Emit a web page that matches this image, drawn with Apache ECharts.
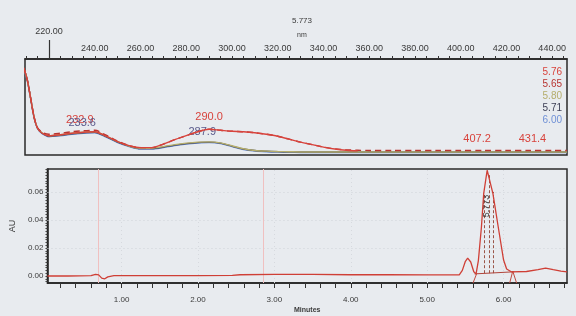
<!DOCTYPE html>
<html>
<head>
<meta charset="utf-8">
<script src="https://cdn.jsdelivr.net/npm/echarts@6/dist/echarts.min.js"></script>
<style>
  html, body { margin: 0; padding: 0; background: #e8ebef; }
  #chart { width: 576px; height: 316px; }
</style>
</head>
<body>
<div id="chart"></div>
<script>
// spectra (top panel), values in arbitrary units
const wavelengths = [209, 210.5, 212, 213.5, 215, 217, 220, 225, 230, 235, 240, 245, 250, 255, 260, 265, 270, 275, 280, 285, 290, 295, 300, 305, 310, 315, 320, 325, 330, 335, 340, 345, 350, 355, 360, 370, 380, 390, 400, 410, 420, 430, 440, 446.5];
const spec576 = [88, 76, 57, 38, 27, 22, 19.5, 20.5, 22, 23, 23.5, 19, 13.5, 9.5, 7.5, 7.5, 11, 15.5, 19.5, 23.5, 26, 25, 24, 23.5, 22.5, 21, 19, 16, 13, 10.5, 8, 6, 4.8, 4.2, null, null, null, null, null, null, null, null, null, null];
const spec565 = [88, 76, 57, 38, 27.5, 23, 21, 22, 23.5, 24.5, 25, 20, 14, 9.5, 7.5, 7.5, 11, 15.5, 19.5, 23.5, 26, 25, 24, 23.5, 22.5, 21, 19, 16, 13, 10.5, 8, 6.2, 5.2, 4.8, 4.6, 4.5, 4.5, 4.5, 4.5, 4.5, 4.5, 4.5, 4.5, 4.5];
const spec580 = [88, 76, 57, 38, 27, 22.5, 19.5, 20.5, 22, 23, 23.5, 19, 13.5, 9, 6.8, 6.8, 8.5, 10.5, 12, 13, 13.3, 12.3, 9.3, 6.3, 4.6, 3.9, 3.5, 3.3, 3.1, 3.1, 3.1, 3.1, 3.1, 3.1, 3.1, 3.1, 3.1, 3.1, 3.1, 3.1, 3.1, 3.1, 3.1, 3.1];
const spec571 = [88, 76, 57, 38, 27, 22, 19, 20, 21.5, 22.5, 23, 18.5, 13, 9, 6.5, 6.5, 8, 10, 11.5, 12.5, 13, 12, 9, 6, 4.5, 3.8, 3.4, 3.2, 3, 3, 3, 3, 3, 3, 3, 3, 3, 3, 3, 3, 3, 3, 3, 3];
const spec600 = [87, 75, 56, 37, 26.5, 21.5, 18.5, 19.5, 21, 22, 22.5, 18, 12.5, 8.5, 6, 6, 7.5, 9.5, 11, 12, 12.5, 11.5, 8.5, 5.5, 4, 3.3, 2.9, 2.7, 2.6, 2.5, 2.5, 2.5, 2.5, 2.5, 2.5, 2.5, 2.5, 2.5, 2.5, 2.5, 2.5, 2.5, 2.5, 2.5];
const specNames = ['5.76', '5.65', '5.80', '5.71', '6.00'];
const specColors = ['#d8433c', '#b83430', '#b5ad6c', '#3c3f55', '#6f90d6'];
const specLabelTicks = [240, 260, 280, 300, 320, 340, 360, 380, 400, 420, 440];
// peak labels on the spectra: [text, nm, value]
const redPeaks = [['232.9', 233.5, 23], ['290.0', 290, 26], ['407.2', 407.2, 4.5], ['431.4', 431.4, 4.5]];
const darkPeaks = [['233.6', 234.5, 22.5], ['287.9', 287, 12.7]];

// chromatogram (bottom panel)
const chromTime = [0.03, 0.3, 0.6, 0.66, 0.7, 0.74, 0.78, 0.82, 0.9, 1.5, 2.0, 2.45, 2.55, 3.0, 3.5, 4.0, 4.5, 5.0, 5.42, 5.46, 5.5, 5.53, 5.57, 5.61, 5.64, 5.67, 5.71, 5.74, 5.785, 5.86, 5.93, 6.0, 6.04, 6.1, 6.3, 6.45, 6.55, 6.65, 6.75, 6.83];
const chromAU = [0.0, 0.0, 0.0002, 0.0012, 0.0008, -0.0015, -0.002, -0.0006, 0.0002, 0.0002, 0.0003, 0.0004, 0.0009, 0.0012, 0.0011, 0.0009, 0.0009, 0.0008, 0.0008, 0.004, 0.0105, 0.0128, 0.010, 0.003, 0.0015, 0.011, 0.035, 0.059, 0.0755, 0.059, 0.035, 0.0114, 0.005, 0.003, 0.0032, 0.0045, 0.0057, 0.0045, 0.0035, 0.003];
const chromLabelTicks = [1, 2, 3, 4, 5, 6];
const auLabelTicks = [0, 0.02, 0.04, 0.06];
const eventTimes = [0.70, 2.85];
const dropTimes = [5.745, 5.81, 5.87];
const dropTops = [0.058, 0.072, 0.06];

const FONT = "'Liberation Sans', Arial, sans-serif";
const TXT = '#3a3a3a';

function steps(from, to, step) {
  const out = [];
  for (let v = from; v <= to + 1e-9; v += step) out.push(+v.toFixed(4));
  return out;
}

const chart = echarts.init(document.getElementById('chart'));

const specData = [spec576, spec565, spec580, spec571, spec600];
const specSeries = specNames.map((name, k) => ({
  name: name,
  type: 'line',
  xAxisIndex: 0,
  yAxisIndex: 0,
  data: wavelengths.map((w, i) => [w, specData[k][i]]),
  showSymbol: false,
  smooth: 0.3,
  z: 10 - k,
  lineStyle: { color: specColors[k], width: 1.4, type: k === 1 ? [6, 4] : 'solid' },
  itemStyle: { color: specColors[k] },
}));
specSeries[0].markPoint = {
  symbol: 'circle', symbolSize: 1, itemStyle: { color: 'rgba(0,0,0,0)' },
  label: { show: true, position: 'top', distance: 6, color: '#d8433c', fontSize: 11, fontFamily: FONT, formatter: (p) => p.name },
  data: redPeaks.map((p) => ({ name: p[0], coord: [p[1], p[2]] })),
};
specSeries[3].markPoint = {
  symbol: 'circle', symbolSize: 1, itemStyle: { color: 'rgba(0,0,0,0)' },
  label: { show: true, position: 'top', distance: 4, color: '#5a5a8c', fontSize: 11, fontFamily: FONT, formatter: (p) => p.name },
  data: darkPeaks.map((p) => ({ name: p[0], coord: [p[1], p[2]] })),
};

const option = {
  backgroundColor: '#e8ebef',
  animation: false,
  textStyle: { fontFamily: FONT },
  title: [
    { text: '5.773', left: 287, top: 12, textStyle: { fontSize: 8, fontWeight: 'normal', color: TXT, fontFamily: FONT } },
    { text: 'nm', left: 292, top: 27, textStyle: { fontSize: 7, fontWeight: 'normal', color: TXT, fontFamily: FONT } },
  ],
  legend: {
    orient: 'vertical', right: 9, top: 62, itemWidth: 0, itemHeight: 0, itemGap: 2,
    selectedMode: false,
    textStyle: { fontSize: 10, fontFamily: FONT },
    data: specNames.map((n, k) => ({ name: n, icon: 'none', textStyle: { color: specColors[k] } })),
  },
  grid: [
    { left: 25, right: 9, top: 59, height: 96, show: true, borderColor: '#2a2a2a', borderWidth: 1.5 },
    { left: 47, right: 9, top: 169, bottom: 33, show: true, borderColor: '#2a2a2a', borderWidth: 1.5 },
  ],
  xAxis: [
    {
      gridIndex: 0, type: 'value', position: 'top', min: 209.5, max: 446.5,
      axisLine: { show: true, onZero: false, lineStyle: { color: '#222', width: 1.5 } },
      axisTick: { show: true, length: 3, customValues: steps(210, 445, 5), lineStyle: { color: '#333' } },
      axisLabel: { customValues: specLabelTicks, margin: 6, fontSize: 9, color: TXT, formatter: (v) => v.toFixed(2) },
      splitLine: { show: false },
    },
    {
      gridIndex: 0, type: 'value', position: 'top', min: 209.5, max: 446.5,
      axisLine: { show: false, onZero: false },
      axisTick: { show: true, length: 19, customValues: [220], lineStyle: { color: '#333', width: 1.2 } },
      axisLabel: { customValues: [220], margin: 23, fontSize: 9, color: TXT, formatter: (v) => v.toFixed(2) },
      splitLine: { show: false },
    },
    {
      gridIndex: 1, type: 'value', min: 0.03, max: 6.83,
      name: 'Minutes', nameLocation: 'middle', nameGap: 24,
      nameTextStyle: { fontSize: 7, color: TXT, fontWeight: 'bold', fontFamily: FONT },
      axisLine: { show: true, onZero: false, lineStyle: { color: '#222', width: 1.5 } },
      axisTick: { show: true, length: 5, customValues: steps(0.2, 6.8, 0.2), lineStyle: { color: '#333' } },
      axisLabel: { customValues: chromLabelTicks, margin: 13, fontSize: 8, color: TXT, formatter: (v) => v.toFixed(2) },
      splitLine: { show: false },
    },
  ],
  yAxis: [
    {
      gridIndex: 0, type: 'value', min: 0, max: 97, show: false,
      axisLine: { show: false, onZero: false }, axisTick: { show: false }, axisLabel: { show: false },
      splitLine: { show: false },
    },
    {
      gridIndex: 1, type: 'value', min: -0.005, max: 0.0764,
      name: 'AU', nameLocation: 'middle', nameGap: 22, nameRotate: 90,
      nameTextStyle: { fontSize: 9, color: TXT, fontFamily: FONT },
      axisLine: { show: true, onZero: false, lineStyle: { color: '#222', width: 1.5 } },
      axisTick: { show: true, length: 2, customValues: steps(-0.004, 0.076, 0.002), lineStyle: { color: '#444' } },
      axisLabel: { customValues: auLabelTicks, margin: 4, fontSize: 8, color: TXT, formatter: (v) => v.toFixed(2) },
      splitLine: { show: false },
    },
  ],
  series: [
    ...specSeries,
    {
      name: 'chromatogram',
      type: 'line',
      xAxisIndex: 2,
      yAxisIndex: 1,
      data: chromTime.map((t, i) => [t, chromAU[i]]),
      showSymbol: false,
      z: 5,
      lineStyle: { color: '#cf3f36', width: 1.3 },
      itemStyle: { color: '#cf3f36' },
      markLine: {
        symbol: 'none', silent: true, label: { show: false },
        data: [
          ...auLabelTicks.slice(1).map((v) => ({ yAxis: v, lineStyle: { color: '#cfd3d9', width: 1, type: [1, 3] } })),
          ...chromLabelTicks.map((t) => ({ xAxis: t, lineStyle: { color: '#d6d9de', width: 1, type: [1, 3] } })),
          ...eventTimes.map((t) => ({ xAxis: t, lineStyle: { color: '#f0c0c0', width: 1, type: 'solid' } })),
          ...dropTimes.map((t, i) => [
            { coord: [t, 0.002], lineStyle: { color: '#9a5548', width: 1, type: [3, 2] } },
            { coord: [t, dropTops[i]] },
          ]),
          [{ coord: [5.62, 0.0015], lineStyle: { color: '#b0443a', width: 1, type: 'solid' } }, { coord: [6.14, 0.003] }],
          [{ coord: [6.08, -0.005], lineStyle: { color: '#c04a40', width: 1, type: 'solid' } }, { coord: [6.12, 0.0035] }],
          [{ coord: [6.12, 0.0035], lineStyle: { color: '#c04a40', width: 1, type: 'solid' } }, { coord: [6.17, -0.005] }],
          [{ coord: [5.6, -0.005], lineStyle: { color: '#c04a40', width: 1, type: 'solid' } }, { coord: [5.65, 0.002] }],
        ],
      },
      markPoint: {
        symbol: 'circle', symbolSize: 1, itemStyle: { color: 'rgba(0,0,0,0)' },
        label: { show: true, position: 'inside', rotate: 90, color: '#333', fontSize: 9, fontFamily: FONT, formatter: '5.773' },
        data: [{ coord: [5.775, 0.05] }],
      },
    },
  ],
};

chart.setOption(option);
</script>
</body>
</html>
